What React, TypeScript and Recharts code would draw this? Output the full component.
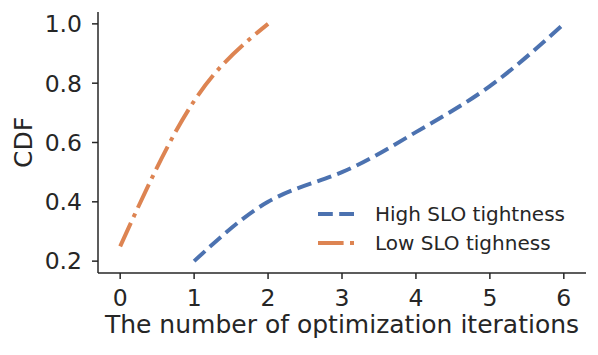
import { LineChart, XAxis, YAxis, Line, Legend, Label } from 'recharts';

const highIters = [1, 2, 3, 4, 5, 6];
const highCdf = [0.2, 0.4, 0.5, 0.635, 0.79, 1.0];
const lowIters = [0, 1, 2];
const lowCdf = [0.25, 0.74, 1.0];
const xTicks = [0, 1, 2, 3, 4, 5, 6];
const yTicks = [0.2, 0.4, 0.6, 0.8, 1.0];

const highData = highIters.map((x, i) => ({ x, y: highCdf[i] }));
const lowData = lowIters.map((x, i) => ({ x, y: lowCdf[i] }));

const BLUE = '#4C72B0';
const ORANGE = '#DD8452';
const INK = '#262626';
const FONT = 'DejaVu Sans';
const DASH = '14.8 6.4';
const DASHDOT = '25.6 6.4 4 6.4';

const legendItems = [
  { label: 'High SLO tightness', color: BLUE, dash: DASH },
  { label: 'Low SLO tighness', color: ORANGE, dash: DASHDOT },
];

function LegendBox() {
  return (
    <svg width={280} height={60}>
      {legendItems.map((it, i) => (
        <g key={it.label}>
          <line x1={8} x2={46} y1={14 + i * 29} y2={14 + i * 29} stroke={it.color} strokeWidth={4} strokeDasharray={it.dash} />
          <text x={65} y={14 + i * 29} dy="0.35em" fontSize={20} fill={INK} fontFamily={FONT}>{it.label}</text>
        </g>
      ))}
    </svg>
  );
}

export default function App() {
  return (
    <div style={{ position: 'absolute', left: 0, top: 0, background: '#fff' }}>
      <LineChart width={598} height={355} margin={{ top: 12, right: 12, left: 0, bottom: 0 }}>
        <XAxis
          type="number"
          dataKey="x"
          domain={[-0.3, 6.3]}
          ticks={xTicks}
          height={82}
          allowDuplicatedCategory={false}
          stroke={INK}
          strokeWidth={1.5}
          tickSize={6}
          tickMargin={10}
          tick={{ fill: INK, fontSize: 23.5, fontFamily: FONT }}
        >
          <Label value="The number of optimization iterations" position="insideBottom" offset={22} fill={INK} fontSize={25} fontFamily={FONT} />
        </XAxis>
        <YAxis
          type="number"
          domain={[0.16, 1.04]}
          ticks={yTicks}
          width={98}
          stroke={INK}
          strokeWidth={1.5}
          tickSize={6}
          tickMargin={10}
          tickFormatter={(v: number) => v.toFixed(1)}
          tick={{ fill: INK, fontSize: 23.5, fontFamily: FONT }}
        >
          <Label value="CDF" angle={-90} position="insideLeft" offset={23} fill={INK} fontSize={25} fontFamily={FONT} style={{ textAnchor: 'middle' }} />
        </YAxis>
        <Legend
          layout="vertical"
          align="center"
          verticalAlign="middle"
          content={<LegendBox />}
          wrapperStyle={{ left: 310, top: 200, width: 280, height: 60 }}
        />
        <Line data={highData} dataKey="y" type="natural" stroke={BLUE} strokeWidth={4} strokeDasharray={DASH} dot={false} isAnimationActive={false} />
        <Line data={lowData} dataKey="y" type="natural" stroke={ORANGE} strokeWidth={4} strokeDasharray={DASHDOT} dot={false} isAnimationActive={false} />
      </LineChart>
    </div>
  );
}
